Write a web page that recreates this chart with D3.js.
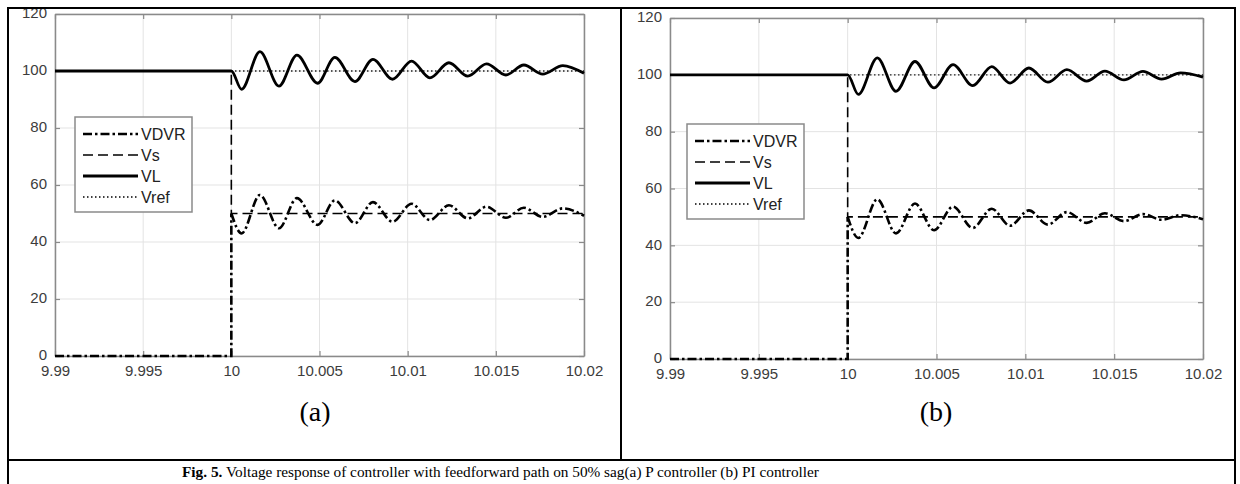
<!DOCTYPE html>
<html><head><meta charset="utf-8">
<script src="https://cdn.jsdelivr.net/npm/d3@7"></script>
<style>html,body{margin:0;padding:0;background:#fff;}svg{display:block;}</style>
</head><body>
<svg id="c" width="1240" height="484"></svg>
<script>
// ---- data ----
const xTicks = [9.99, 9.995, 10, 10.005, 10.01, 10.015, 10.02];
const yTicks = [0, 20, 40, 60, 80, 100, 120];
const xTickLabels = ["9.99", "9.995", "10", "10.005", "10.01", "10.015", "10.02"];
const legendLabels = ["VDVR", "Vs", "VL", "Vref"];
const sagTime = 10;
const vsBefore = 100;
const vsAfter = 50;
const vrefValue = 100;

// panel (a) P controller
const timeA = [9.99, 10.0, 10.00058, 10.00162, 10.0027, 10.00372, 10.00489, 10.00587, 10.00701, 10.00803, 10.00914, 10.01022, 10.01126, 10.01234, 10.01341, 10.01447, 10.01557, 10.01659, 10.01766, 10.0188, 10.02];
const vlA = [100, 100, 93.6, 106.8, 94.7, 105.6, 95.7, 104.8, 96.3, 104.1, 97.1, 103.5, 97.6, 102.9, 98.2, 102.5, 98.6, 102.1, 98.9, 101.9, 99.2];
const vdvrA = [0, 50, 43.0, 56.5, 44.8, 55.4, 46.0, 54.6, 46.6, 54.0, 47.1, 53.4, 47.7, 52.9, 48.3, 52.4, 48.5, 52.0, 48.8, 51.8, 49.2];

// panel (b) PI controller
const timeB = [9.99, 10.0, 10.0006, 10.00167, 10.00272, 10.00379, 10.00486, 10.00593, 10.00704, 10.00811, 10.00914, 10.0102, 10.01127, 10.01234, 10.01345, 10.01448, 10.01555, 10.01662, 10.01767, 10.01874, 10.02];
const vlB = [100, 100, 93.1, 106.0, 94.2, 104.7, 95.4, 103.6, 96.2, 102.9, 97.1, 102.4, 97.4, 101.8, 97.8, 101.3, 98.2, 101.2, 98.5, 100.7, 99.2];
const vdvrB = [0, 50, 42.6, 56.2, 44.2, 54.7, 45.3, 53.6, 46.1, 52.9, 46.9, 52.3, 47.3, 51.7, 47.9, 51.3, 48.5, 51.0, 49.0, 50.6, 49.2];

const subLabels = ["(a)", "(b)"];
const captionBold = "Fig. 5.";
const captionText = " Voltage response of controller with feedforward path on 50% sag(a) P controller (b) PI controller";

// ---- layout ----
const svg = d3.select("#c");
const panels = [
  {t: timeA, vl: vlA, vdvr: vdvrA, x0: 55, x1: 584, y0: 356, y1: 14, leg: [75, 117], lab: subLabels[0], labX: 315},
  {t: timeB, vl: vlB, vdvr: vdvrB, x0: 670, x1: 1203, y0: 359, y1: 18, leg: [687, 124], lab: subLabels[1], labX: 936}
];

const sansFont = "'Liberation Sans', Arial, sans-serif";
const serifFont = "'Liberation Serif', 'Times New Roman', serif";

panels.forEach(p => {
  const x = d3.scaleLinear().domain([xTicks[0], xTicks[xTicks.length - 1]]).range([p.x0, p.x1]);
  const y = d3.scaleLinear().domain([yTicks[0], yTicks[yTicks.length - 1]]).range([p.y0, p.y1]);
  const g = svg.append("g");

  // grid
  g.append("g").selectAll("line").data(xTicks).join("line")
    .attr("x1", d => x(d)).attr("x2", d => x(d)).attr("y1", p.y0).attr("y2", p.y1)
    .attr("stroke", "#e3e3e3").attr("stroke-width", 1);
  g.append("g").selectAll("line").data(yTicks).join("line")
    .attr("y1", d => y(d)).attr("y2", d => y(d)).attr("x1", p.x0).attr("x2", p.x1)
    .attr("stroke", "#e3e3e3").attr("stroke-width", 1);

  // axes (MATLAB box style, ticks inside on all sides)
  const axB = d3.axisBottom(x).tickValues(xTicks).tickFormat((d, i) => xTickLabels[i]).tickSizeInner(-5).tickSizeOuter(0).tickPadding(9);
  const axT = d3.axisTop(x).tickValues(xTicks).tickFormat("").tickSizeInner(-5).tickSizeOuter(0);
  const axL = d3.axisLeft(y).tickValues(yTicks).tickFormat(d3.format("d")).tickSizeInner(-5).tickSizeOuter(0).tickPadding(8);
  const axR = d3.axisRight(y).tickValues(yTicks).tickFormat("").tickSizeInner(-5).tickSizeOuter(0);
  const styleAxis = sel => {
    sel.selectAll("path").attr("stroke", "#8a8a8a").attr("stroke-width", 1.5);
    sel.selectAll("line").attr("stroke", "#8a8a8a").attr("stroke-width", 1.2);
    sel.selectAll("text").attr("fill", "#3c3c3c").style("font-family", sansFont).style("font-size", "15px");
  };
  g.append("g").attr("transform", `translate(0,${p.y0})`).call(axB).call(styleAxis);
  g.append("g").attr("transform", `translate(0,${p.y1})`).call(axT).call(styleAxis);
  g.append("g").attr("transform", `translate(${p.x0},0)`).call(axL).call(styleAxis)
    .selectAll("text").attr("dy", "0.25em");
  g.append("g").attr("transform", `translate(${p.x1},0)`).call(axR).call(styleAxis);

  const lin = d3.line().x(d => x(d[0])).y(d => y(d[1]));
  const smooth = d3.line().x(d => x(d[0])).y(d => y(d[1])).curve(d3.curveMonotoneX);

  // Vref dotted
  g.append("path").datum([[xTicks[0], vrefValue], [xTicks[xTicks.length - 1], vrefValue]])
    .attr("d", lin).attr("fill", "none").attr("stroke", "#222").attr("stroke-width", 1.3).attr("stroke-dasharray", "1.5,2.5");
  // Vs dashed
  g.append("path").datum([[xTicks[0], vsBefore], [sagTime, vsBefore], [sagTime, vsAfter], [xTicks[xTicks.length - 1], vsAfter]])
    .attr("d", lin).attr("fill", "none").attr("stroke", "#000").attr("stroke-width", 1.6).attr("stroke-dasharray", "10,5");
  // VDVR dash-dot: step then oscillation
  const vdvrPts = p.t.map((t, i) => [t, p.vdvr[i]]);
  g.append("path").datum([vdvrPts[0], [sagTime, p.vdvr[0]], vdvrPts[1]])
    .attr("d", lin).attr("fill", "none").attr("stroke", "#000").attr("stroke-width", 2.6).attr("stroke-dasharray", "9,3,2.5,3");
  g.append("path").datum(vdvrPts.slice(1))
    .attr("d", smooth).attr("fill", "none").attr("stroke", "#000").attr("stroke-width", 2.6).attr("stroke-dasharray", "9,3,2.5,3");
  // VL solid
  g.append("path").datum(p.t.map((t, i) => [t, p.vl[i]]))
    .attr("d", smooth).attr("fill", "none").attr("stroke", "#000").attr("stroke-width", 2.8);

  // legend
  const [lx, ly] = p.leg;
  const lg = g.append("g").attr("transform", `translate(${lx},${ly})`);
  lg.append("rect").attr("x", 0).attr("y", 0).attr("width", 117).attr("height", 95)
    .attr("fill", "#fff").attr("stroke", "#8a8a8a").attr("stroke-width", 1.5);
  const styles = [
    {w: 2.6, dash: "9,3,2.5,3"},
    {w: 1.6, dash: "10,5"},
    {w: 2.8, dash: null},
    {w: 1.3, dash: "1.5,2.5"}
  ];
  legendLabels.forEach((lab, i) => {
    const yy = 17 + i * 21;
    lg.append("line").attr("x1", 8).attr("x2", 63).attr("y1", yy).attr("y2", yy)
      .attr("stroke", "#000").attr("stroke-width", styles[i].w).attr("stroke-dasharray", styles[i].dash);
    lg.append("text").attr("x", 66).attr("y", yy + 5.5).text(lab)
      .attr("fill", "#222").style("font-family", sansFont).style("font-size", "16px");
  });

  // sub label
  svg.append("text").attr("x", p.labX).attr("y", 421).attr("text-anchor", "middle")
    .style("font-family", serifFont).style("font-size", "28px").attr("fill", "#000").text(p.lab);
});

// frame
svg.append("rect").attr("x", 8).attr("y", 8).attr("width", 1227).attr("height", 490)
  .attr("fill", "none").attr("stroke", "#000").attr("stroke-width", 2);
svg.append("line").attr("x1", 621).attr("x2", 621).attr("y1", 8).attr("y2", 460).attr("stroke", "#000").attr("stroke-width", 2);
svg.append("line").attr("x1", 8).attr("x2", 1235).attr("y1", 460).attr("y2", 460).attr("stroke", "#000").attr("stroke-width", 2);

// caption
const cap = svg.append("text").attr("x", 182).attr("y", 477)
  .style("font-family", serifFont).style("font-size", "15.3px").attr("fill", "#000");
cap.append("tspan").attr("font-weight", "bold").text(captionBold);
cap.append("tspan").text(captionText);
</script>
</body></html>
